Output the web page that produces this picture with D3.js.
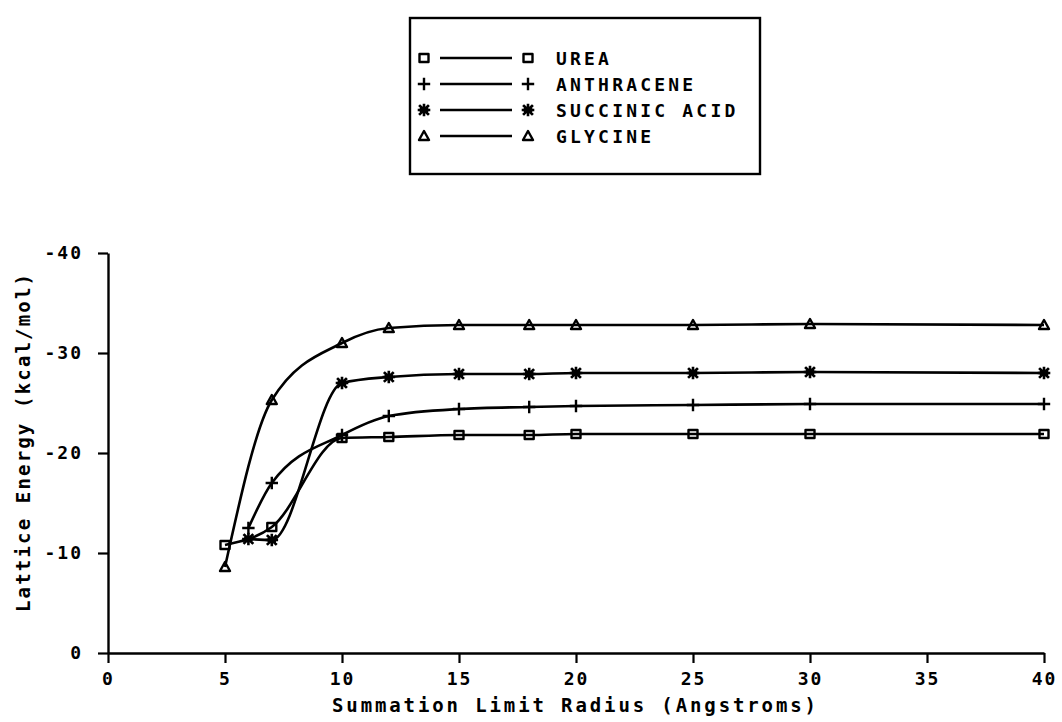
<!DOCTYPE html>
<html>
<head>
<meta charset="utf-8">
<script src="https://cdn.jsdelivr.net/npm/d3@7"></script>
<style>
  html, body { margin: 0; padding: 0; background: #fff; }
  svg text { font-family: "DejaVu Sans Mono", monospace; font-weight: bold; fill: #000; }
</style>
</head>
<body>
<svg id="chart" width="1062" height="722"></svg>
<script>
// Summation limit radius (Angstroms) and lattice energy (kcal/mol) per compound
const ureaX = [5, 7, 10, 12, 15, 18, 20, 25, 30, 40];
const ureaY = [-10.8, -12.6, -21.5, -21.6, -21.8, -21.8, -21.9, -21.9, -21.9, -21.9];

const anthraceneX = [6, 7, 10, 12, 15, 18, 20, 25, 30, 40];
const anthraceneY = [-12.5, -17.0, -21.8, -23.7, -24.4, -24.6, -24.7, -24.8, -24.9, -24.9];

const succinicX = [6, 7, 10, 12, 15, 18, 20, 25, 30, 40];
const succinicY = [-11.4, -11.3, -27.0, -27.6, -27.9, -27.9, -28.0, -28.0, -28.1, -28.0];

const glycineX = [5, 7, 10, 12, 15, 18, 20, 25, 30, 40];
const glycineY = [-8.6, -25.3, -31.0, -32.5, -32.8, -32.8, -32.8, -32.8, -32.9, -32.8];

const seriesNames = ["UREA", "ANTHRACENE", "SUCCINIC ACID", "GLYCINE"];
const seriesMarkers = ["square", "plus", "asterisk", "triangle"];

const xTicks = [0, 5, 10, 15, 20, 25, 30, 35, 40];
const yTicks = [0, -10, -20, -30, -40];

const xTitle = "Summation Limit Radius (Angstroms)";
const yTitle = "Lattice Energy (kcal/mol)";

const series = [
  { name: seriesNames[0], marker: seriesMarkers[0], xs: ureaX, ys: ureaY },
  { name: seriesNames[1], marker: seriesMarkers[1], xs: anthraceneX, ys: anthraceneY },
  { name: seriesNames[2], marker: seriesMarkers[2], xs: succinicX, ys: succinicY },
  { name: seriesNames[3], marker: seriesMarkers[3], xs: glycineX, ys: glycineY }
];

const svg = d3.select("#chart");
const ink = "#000";

const x = d3.scaleLinear().domain([0, 40]).range([108, 1044]);
const y = d3.scaleLinear().domain([0, -40]).range([653, 253]);

// Plotter-style marker outlines
function markerPath(type) {
  const p = d3.path();
  if (type === "square") {
    p.rect(-4.5, -4, 9, 8);
  } else if (type === "plus") {
    p.moveTo(-5, 0); p.lineTo(5, 0);
    p.moveTo(0, -5); p.lineTo(0, 5);
  } else if (type === "asterisk") {
    p.moveTo(-5, 0); p.lineTo(5, 0);
    p.moveTo(0, -5); p.lineTo(0, 5);
    p.moveTo(-4, -4); p.lineTo(4, 4);
    p.moveTo(-4, 4); p.lineTo(4, -4);
    p.moveTo(-3, -2); p.lineTo(3, -2);
    p.moveTo(-3, 2); p.lineTo(3, 2);
  } else if (type === "triangle") {
    p.moveTo(0, -5); p.lineTo(5, 4); p.lineTo(-5, 4); p.closePath();
  }
  return p.toString();
}

function drawMarker(g, type, cx, cy) {
  g.append("path")
    .attr("d", markerPath(type))
    .attr("transform", `translate(${cx},${cy})`)
    .attr("fill", "none")
    .attr("stroke", ink)
    .attr("stroke-width", type === "asterisk" ? 2.6 : 2.4)
    .attr("stroke-linejoin", "round")
    .attr("stroke-linecap", "square");
}

// Axes
const xAxis = d3.axisBottom(x).tickValues(xTicks).tickSize(10).tickSizeOuter(0).tickPadding(9)
  .tickFormat(d => String(d));
const yAxis = d3.axisLeft(y).tickValues(yTicks).tickSize(10).tickSizeOuter(0).tickPadding(15)
  .tickFormat(d => (d < 0 ? "-" + Math.abs(d) : String(d)));

const gx = svg.append("g").attr("transform", `translate(0,${y(0)})`).call(xAxis);
const gy = svg.append("g").attr("transform", `translate(${x(0)},0)`).call(yAxis);

[gx, gy].forEach(g => {
  g.select(".domain").attr("stroke", ink).attr("stroke-width", 2.4);
  g.selectAll(".tick line").attr("stroke", ink).attr("stroke-width", 2.2);
  g.selectAll(".tick text")
    .attr("fill", ink)
    .style("font-family", "'DejaVu Sans Mono', monospace")
    .style("font-weight", "bold")
    .style("font-size", "18px")
    .style("letter-spacing", "2px");
});

// Axis titles
svg.append("text")
  .attr("x", 332).attr("y", 712)
  .attr("textLength", 484).attr("lengthAdjust", "spacing")
  .style("font-size", "19px")
  .text(xTitle);

svg.append("text")
  .attr("transform", "translate(30,443) rotate(-90)")
  .attr("text-anchor", "middle")
  .attr("textLength", 338).attr("lengthAdjust", "spacing")
  .style("font-size", "19px")
  .text(yTitle);

// Series curves and markers
const line = d3.line()
  .x(d => x(d[0]))
  .y(d => y(d[1]))
  .curve(d3.curveMonotoneX);

const plot = svg.append("g");
series.forEach(s => {
  const pts = s.xs.map((v, i) => [v, s.ys[i]]);
  plot.append("path")
    .attr("d", line(pts))
    .attr("fill", "none")
    .attr("stroke", ink)
    .attr("stroke-width", 2.6)
    .attr("stroke-linejoin", "round");
  pts.forEach(p => drawMarker(plot, s.marker, x(p[0]), y(p[1])));
});

// Legend
const legend = svg.append("g");
legend.append("rect")
  .attr("x", 410).attr("y", 18).attr("width", 350).attr("height", 156)
  .attr("fill", "none").attr("stroke", ink).attr("stroke-width", 2.4);

series.forEach((s, i) => {
  const ly = 58 + i * 26;
  drawMarker(legend, s.marker, 424, ly);
  legend.append("line")
    .attr("x1", 440).attr("x2", 512).attr("y1", ly).attr("y2", ly)
    .attr("stroke", ink).attr("stroke-width", 2.6);
  drawMarker(legend, s.marker, 528, ly);
  legend.append("text")
    .attr("x", 556).attr("y", ly + 7)
    .style("font-size", "18px")
    .style("letter-spacing", "3.2px")
    .text(s.name);
});
</script>
</body>
</html>
